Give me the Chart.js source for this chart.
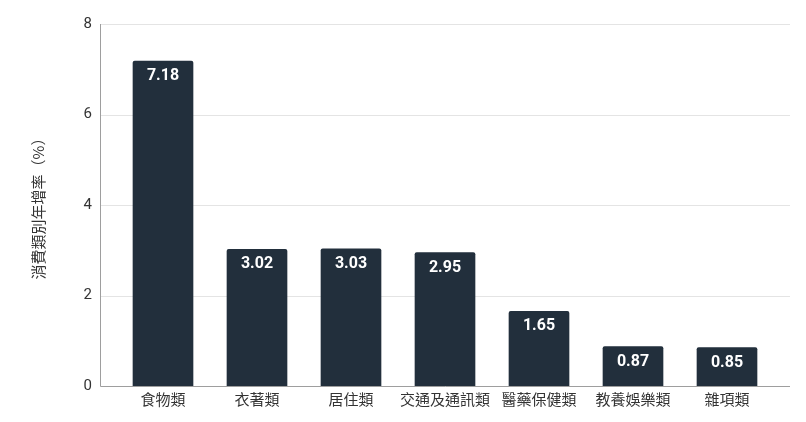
<!DOCTYPE html>
<html>
<head>
<meta charset="utf-8">
<script src="https://cdn.jsdelivr.net/npm/chart.js@4.4.0/dist/chart.umd.min.js"></script>
<style>
  html, body { margin: 0; padding: 0; background: #fff; }
  #wrap { width: 806px; height: 422px; }
</style>
</head>
<body>
<div id="wrap"><canvas id="growthChart"></canvas></div>
<script>
// 消費類別年增率
const categories = ['食物類', '衣著類', '居住類', '交通及通訊類', '醫藥保健類', '教養娛樂類', '雜項類'];
const growthRates = [7.18, 3.02, 3.03, 2.95, 1.65, 0.87, 0.85];
const yTicks = [0, 2, 4, 6, 8];

const barColor = '#222f3c';
const textColor = '#333333';

// gridlines and axis lines drawn a bit wider than the bar area
const axisFrame = {
    id: 'axisFrame',
    beforeDatasetsDraw(chart) {
        const ctx = chart.ctx;
        const y = chart.scales.y;
        const area = chart.chartArea;
        const left = area.left - 16;
        const right = area.right + 16;
        ctx.save();
        ctx.lineWidth = 1;
        ctx.strokeStyle = '#e4e4e4';
        yTicks.forEach(v => {
            if (v === 0) return;
            const py = Math.round(y.getPixelForValue(v)) + 0.5;
            ctx.beginPath();
            ctx.moveTo(left, py);
            ctx.lineTo(right, py);
            ctx.stroke();
        });
        ctx.strokeStyle = '#9e9e9e';
        const base = Math.round(y.getPixelForValue(0)) + 0.5;
        ctx.beginPath();
        ctx.moveTo(left + 0.5, y.getPixelForValue(8));
        ctx.lineTo(left + 0.5, base);
        ctx.lineTo(right, base);
        ctx.stroke();
        ctx.restore();
    }
};

// value labels inside the top of each bar
const barValues = {
    id: 'barValues',
    afterDatasetsDraw(chart) {
        const ctx = chart.ctx;
        const meta = chart.getDatasetMeta(0);
        ctx.save();
        ctx.fillStyle = '#ffffff';
        ctx.font = 'bold 16px Roboto, "Noto Sans", sans-serif';
        ctx.textAlign = 'center';
        ctx.textBaseline = 'middle';
        meta.data.forEach((bar, i) => {
            ctx.fillText(growthRates[i].toFixed(2), bar.x, bar.y + 15);
        });
        ctx.restore();
    }
};

const ctx = document.getElementById('growthChart').getContext('2d');
new Chart(ctx, {
    type: 'bar',
    data: {
        labels: categories,
        datasets: [{
            label: '消費類別年增率（%）',
            data: growthRates,
            backgroundColor: barColor,
            borderRadius: { topLeft: 2, topRight: 2 },
            borderSkipped: 'bottom',
            barThickness: 60
        }]
    },
    options: {
        responsive: true,
        maintainAspectRatio: false,
        animation: false,
        layout: { padding: { top: 24, right: 32, bottom: 0, left: 0 } },
        plugins: {
            legend: { display: false },
            tooltip: { enabled: false }
        },
        scales: {
            x: {
                grid: { display: false, drawTicks: false },
                border: { display: false },
                ticks: {
                    color: textColor,
                    padding: 6,
                    maxRotation: 0,
                    minRotation: 0,
                    autoSkip: false,
                    font: { family: 'Roboto, "Noto Sans CJK TC", sans-serif', size: 15 }
                },
                afterFit(scale) { scale.height = 36; }
            },
            y: {
                min: 0,
                max: 8,
                grid: { display: false, drawTicks: true, tickLength: 16 },
                border: { display: false },
                ticks: {
                    stepSize: 2,
                    color: textColor,
                    padding: 8,
                    font: { family: 'Roboto, "Noto Sans", sans-serif', size: 15 }
                },
                title: {
                    display: true,
                    text: '消費類別年增率（%）',
                    color: textColor,
                    padding: { top: 29, bottom: 0 },
                    font: { family: '"Noto Sans CJK TC", sans-serif', size: 15 }
                },
                afterFit(scale) { scale.width = 116; }
            }
        }
    },
    plugins: [axisFrame, barValues]
});
</script>
</body>
</html>
